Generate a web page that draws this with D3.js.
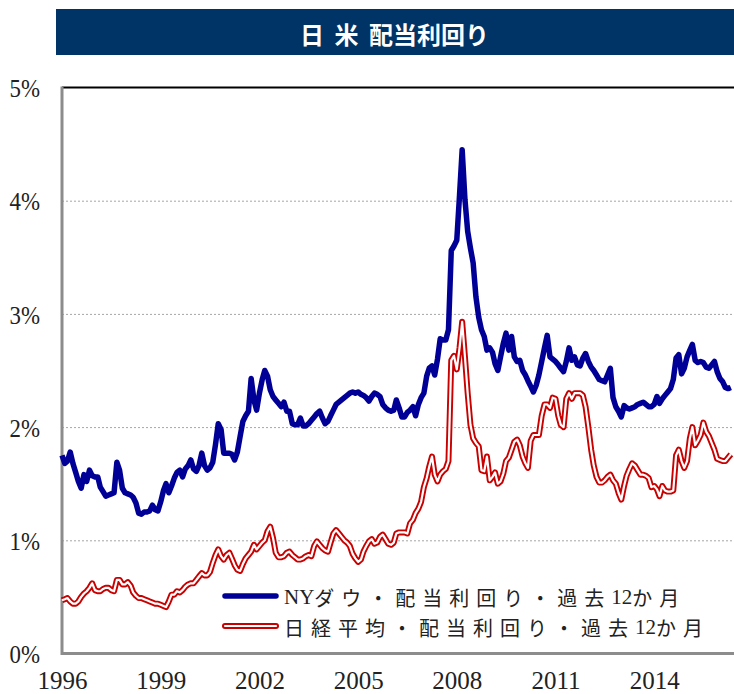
<!DOCTYPE html>
<html>
<head>
<meta charset="UTF-8">
<title>日 米 配当利回り</title>
<script src="https://d3js.org/d3.v7.min.js"></script>
<style>
  body { margin: 0; background: #fff; }
  svg { display: block; }
  .tick text { font-family: "Liberation Serif", "DejaVu Serif", serif; fill: #222; }
  .grid line { stroke: #a6a6a6; stroke-dasharray: 2,2; }
  .grid path { display: none; }
</style>
</head>
<body>
<svg width="734" height="694"></svg>
<script>

// monthly dividend yield (%), from Jan 1996
var startYear = 1996;
var dowYield = [
  1.75,1.68,1.70,1.78,1.68,1.60,1.52,1.46,1.58,1.52,1.62,1.57, // 1996
  1.56,1.56,1.47,1.43,1.39,1.40,1.41,1.42,1.69,1.62,1.46,1.42, // 1997
  1.41,1.40,1.38,1.33,1.24,1.23,1.25,1.25,1.26,1.31,1.27,1.26, // 1998
  1.34,1.44,1.50,1.42,1.48,1.55,1.60,1.62,1.56,1.63,1.66,1.71, // 1999
  1.63,1.61,1.66,1.77,1.66,1.62,1.64,1.69,1.85,2.03,1.98,1.77, // 2000
  1.77,1.77,1.76,1.71,1.78,1.92,2.05,2.10,2.14,2.43,2.24,2.15, // 2001
  2.30,2.42,2.50,2.45,2.33,2.27,2.24,2.21,2.18,2.22,2.14,2.14, // 2002
  2.03,2.02,2.02,2.08,2.01,2.01,2.03,2.06,2.09,2.12,2.14,2.08, // 2003
  2.03,2.05,2.10,2.15,2.20,2.22,2.24,2.26,2.28,2.30,2.31,2.30, // 2004
  2.31,2.29,2.28,2.26,2.23,2.27,2.30,2.29,2.27,2.20,2.17,2.15, // 2005
  2.14,2.15,2.24,2.17,2.09,2.09,2.13,2.15,2.18,2.10,2.20,2.26, // 2006
  2.30,2.45,2.52,2.54,2.46,2.60,2.78,2.77,2.77,2.86,3.56,3.60, // 2007
  3.65,4.05,4.45,4.01,3.73,3.58,3.45,3.15,2.97,2.86,2.80,2.68, // 2008
  2.70,2.66,2.56,2.50,2.62,2.74,2.83,2.68,2.80,2.62,2.58,2.59, // 2009
  2.50,2.46,2.41,2.36,2.31,2.37,2.46,2.58,2.70,2.81,2.62,2.60, // 2010
  2.58,2.55,2.52,2.49,2.58,2.70,2.59,2.62,2.55,2.54,2.61,2.65, // 2011
  2.58,2.53,2.50,2.46,2.42,2.41,2.40,2.46,2.52,2.26,2.18,2.14, // 2012
  2.09,2.19,2.17,2.16,2.17,2.18,2.20,2.21,2.22,2.20,2.18,2.18, // 2013
  2.20,2.27,2.21,2.25,2.28,2.31,2.34,2.42,2.61,2.64,2.47,2.52, // 2014
  2.62,2.68,2.73,2.59,2.57,2.58,2.57,2.53,2.52,2.55,2.58,2.49, // 2015
  2.43,2.40,2.35,2.34,2.35                                     // 2016
];
var nikkeiYield = [
  0.47,0.48,0.49,0.46,0.44,0.44,0.46,0.50,0.53,0.55,0.58,0.62, // 1996
  0.56,0.55,0.55,0.57,0.58,0.58,0.56,0.55,0.65,0.65,0.61,0.61, // 1997
  0.63,0.60,0.54,0.51,0.49,0.49,0.48,0.47,0.46,0.45,0.44,0.44, // 1998
  0.43,0.42,0.41,0.46,0.52,0.52,0.55,0.54,0.56,0.59,0.61,0.62, // 1999
  0.62,0.65,0.68,0.71,0.69,0.69,0.72,0.80,0.87,0.92,0.86,0.83, // 2000
  0.87,0.89,0.84,0.78,0.74,0.73,0.79,0.84,0.87,0.90,0.96,0.92, // 2001
  0.95,0.98,1.00,1.08,1.12,1.02,0.89,0.85,0.85,0.86,0.89,0.90, // 2002
  0.87,0.85,0.83,0.83,0.84,0.86,0.87,0.86,0.95,0.99,0.96,0.93, // 2003
  0.91,0.90,0.98,1.06,1.09,1.06,1.03,1.00,0.98,0.95,0.88,0.84, // 2004
  0.81,0.83,0.90,0.95,0.99,1.01,0.97,0.98,1.03,1.05,1.01,0.97, // 2005
  0.96,0.98,1.06,1.07,1.07,1.07,1.06,1.15,1.18,1.24,1.28,1.34, // 2006
  1.47,1.55,1.65,1.74,1.58,1.52,1.58,1.61,1.63,1.70,2.59,2.63, // 2007
  2.51,2.70,2.93,2.62,2.30,2.02,1.90,1.86,1.83,1.62,1.61,1.74, // 2008
  1.53,1.56,1.60,1.50,1.52,1.59,1.70,1.73,1.80,1.87,1.89,1.84, // 2009
  1.74,1.68,1.64,1.88,1.93,1.93,1.93,2.10,2.20,2.20,2.17,2.26, // 2010
  2.25,2.10,2.02,2.00,2.25,2.30,2.25,2.30,2.30,2.30,2.28,2.18, // 2011
  2.00,1.80,1.66,1.56,1.51,1.51,1.53,1.56,1.58,1.53,1.50,1.42, // 2012
  1.36,1.48,1.57,1.63,1.68,1.66,1.62,1.58,1.58,1.57,1.55,1.47, // 2013
  1.48,1.45,1.39,1.48,1.44,1.43,1.43,1.44,1.75,1.80,1.70,1.64, // 2014
  1.70,1.90,2.00,1.84,1.88,1.93,2.04,1.96,1.92,1.86,1.80,1.72, // 2015
  1.71,1.70,1.70,1.73,1.76                                     // 2016
];
var yearTicks = [1996, 1999, 2002, 2005, 2008, 2011, 2014];
var pctTicks = [0, 1, 2, 3, 4, 5];
var gridTicks = [1, 2, 3, 4];
var title = "日 米 配当利回り";
var legendNames = ["NYダウ・配当利回り・過去12か月", "日経平均・配当利回り・過去12か月"];

var svg = d3.select("svg"),
    W = +svg.attr("width"),
    plotLeft = 62, plotTop = 87.5, plotBottom = 653.5;

var x = d3.scaleTime()
    .domain([new Date(1996, 0, 1), new Date(2017, 0, 1)])
    .range([plotLeft, plotLeft + 21 * 32.9]);
var y = d3.scaleLinear().domain([0, 5]).range([plotBottom, plotTop]);

function monthDate(i) { return new Date(startYear, i, 1); }

// title bar
svg.append("rect")
    .attr("x", 56).attr("y", 9).attr("width", W - 56).attr("height", 46)
    .attr("fill", "#003366");
svg.append("text")
    .attr("x", 300).attr("y", 33)
    .attr("dominant-baseline", "central")
    .attr("fill", "#fff")
    .style("font-family", "'Noto Sans CJK JP', sans-serif")
    .style("font-weight", "bold")
    .style("font-size", "24px")
    .style("word-spacing", "5px")
    .text(title);

// gridlines
svg.append("g")
    .attr("class", "grid")
    .attr("transform", "translate(" + plotLeft + ",0)")
    .call(d3.axisLeft(y).tickValues(gridTicks).tickSize(-(W - plotLeft)).tickFormat(""));

// frame
svg.append("line")
    .attr("x1", plotLeft).attr("x2", W).attr("y1", plotTop).attr("y2", plotTop)
    .attr("stroke", "#000").attr("stroke-width", 2);
svg.append("line")
    .attr("x1", plotLeft).attr("x2", W).attr("y1", plotBottom).attr("y2", plotBottom)
    .attr("stroke", "#8c8c8c").attr("stroke-width", 3);
svg.append("line")
    .attr("x1", plotLeft).attr("x2", plotLeft).attr("y1", plotTop - 1).attr("y2", plotBottom + 1.5)
    .attr("stroke", "#8c8c8c").attr("stroke-width", 3);

// axes
var sx = 0.88;
var yAxis = svg.append("g")
    .attr("transform", "translate(" + plotLeft + ",0)")
    .call(d3.axisLeft(y).tickValues(pctTicks).tickSize(0).tickFormat(function(d) { return d + "%"; }));
yAxis.select(".domain").remove();
yAxis.selectAll("text")
    .attr("x", -22 / sx)
    .attr("dy", "0.35em")
    .attr("transform", "scale(" + sx + ",1)")
    .style("font-size", "26px");

var xAxis = svg.append("g")
    .attr("transform", "translate(0," + plotBottom + ")")
    .call(d3.axisBottom(x)
      .tickValues(yearTicks.map(function(d) { return new Date(d, 0, 1); }))
      .tickSize(0)
      .tickFormat(d3.timeFormat("%Y")));
xAxis.select(".domain").remove();
xAxis.selectAll("text")
    .attr("y", 35.5)
    .attr("dy", 0)
    .style("font-size", "25px");

// lines
var line = d3.line()
    .x(function(d, i) { return x(monthDate(i)); })
    .y(function(d) { return y(d); });

svg.append("path")
    .datum(dowYield)
    .attr("d", line)
    .attr("fill", "none")
    .attr("stroke", "#000096")
    .attr("stroke-width", 5.5)
    .attr("stroke-linejoin", "round");

svg.append("path")
    .datum(nikkeiYield)
    .attr("d", line)
    .attr("fill", "none")
    .attr("stroke", "#c80000")
    .attr("stroke-width", 6)
    .attr("stroke-linejoin", "round");
svg.append("path")
    .datum(nikkeiYield)
    .attr("d", line)
    .attr("fill", "none")
    .attr("stroke", "#fff")
    .attr("stroke-width", 2.2)
    .attr("stroke-linejoin", "round");

// legend
var lg = svg.append("g");
lg.append("line")
    .attr("x1", 225).attr("x2", 276).attr("y1", 596).attr("y2", 596)
    .attr("stroke", "#000096").attr("stroke-width", 5.5).attr("stroke-linecap", "round");
lg.append("line")
    .attr("x1", 225).attr("x2", 276).attr("y1", 626).attr("y2", 626)
    .attr("stroke", "#c80000").attr("stroke-width", 6).attr("stroke-linecap", "round");
lg.append("line")
    .attr("x1", 225).attr("x2", 276).attr("y1", 626).attr("y2", 626)
    .attr("stroke", "#fff").attr("stroke-width", 2.2).attr("stroke-linecap", "round");

var legText = lg.selectAll("text.leg")
    .data(legendNames)
    .enter().append("text")
    .attr("class", "leg")
    .attr("x", 284)
    .attr("y", function(d, i) { return 597 + i * 30; })
    .attr("dominant-baseline", "central")
    .attr("fill", "#222")
    .style("font-family", "'Noto Sans CJK JP', sans-serif")
    .style("font-size", "20px")
    .style("letter-spacing", "7px");

// latin parts in serif, tight; japanese parts spaced out
legText.each(function(d) {
  var t = d3.select(this);
  d.split(/([A-Za-z0-9]+)/).filter(function(s) { return s.length; }).forEach(function(s) {
    var latin = /^[A-Za-z0-9]+$/.test(s);
    t.append("tspan")
      .style("font-family", latin ? "'Liberation Serif', serif" : null)
      .style("font-size", latin ? "21px" : null)
      .style("letter-spacing", latin ? "0px" : null)
      .text(s);
  });
});

</script>
</body>
</html>
